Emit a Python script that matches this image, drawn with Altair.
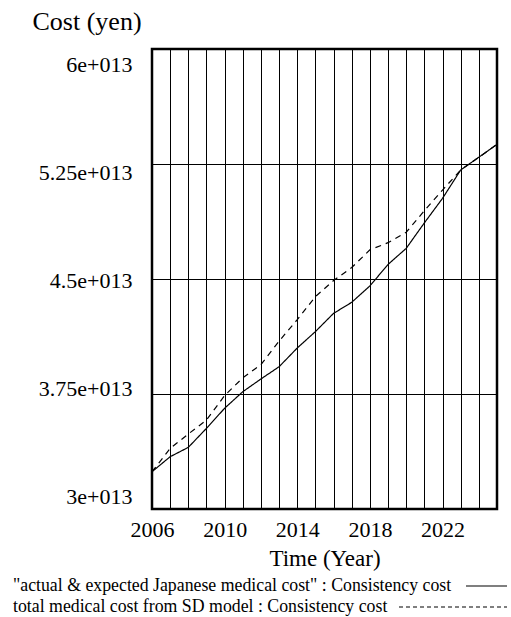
import altair as alt
import pandas as pd

# Annual medical cost (yen, in units of 1e13)
years = list(range(2006, 2026))
actual_cost = [3.243, 3.341, 3.402, 3.526, 3.657, 3.765, 3.848, 3.928, 4.050, 4.157,
               4.276, 4.348, 4.455, 4.595, 4.700, 4.866, 5.026, 5.211, 5.294, 5.378]
model_cost = [3.243, 3.395, 3.489, 3.580, 3.740, 3.855, 3.942, 4.095, 4.235, 4.385,
              4.490, 4.575, 4.690, 4.737, 4.805, 4.945, 5.080, 5.211, 5.294, 5.378]
series_names = ['"actual & expected Japanese medical cost" : Consistency cost',
                'total medical cost from SD model : Consistency cost']
series_dash = [[1, 0], [6, 5]]
y_ticks = [3.0e13, 3.75e13, 4.5e13, 5.25e13, 6.0e13]
x_label_years = [2006, 2010, 2014, 2018, 2022]

FONT = "Liberation Serif"

rows = []
for name, vals in zip(series_names, [actual_cost, model_cost]):
    for yr, v in zip(years, vals):
        rows.append({"year": yr, "cost": v * 1e13, "series": name})
df = pd.DataFrame(rows)

label_years = ",".join(str(y) for y in x_label_years)

lines = alt.Chart(df).mark_line(strokeWidth=1.2, color="black").encode(
    x=alt.X(
        "year:Q",
        scale=alt.Scale(domain=[years[0], years[-1]], nice=False, zero=False),
        axis=alt.Axis(
            values=years,
            format="d",
            labelExpr=f"indexof([{label_years}], datum.value) >= 0 ? datum.label : ''",
            labelFlush=False,
            title="Time (Year)",
            titleY=56,
            titleBaseline="alphabetic",
            titleFontSize=23,
            titleFontWeight="normal",
            labelFontSize=22,
            labelPadding=10,
        ),
    ),
    y=alt.Y(
        "cost:Q",
        scale=alt.Scale(domain=[y_ticks[0], y_ticks[-1]], nice=False, zero=False),
        axis=alt.Axis(
            values=y_ticks,
            labelExpr="replace(format(datum.value, '.3~e'), 'e+', 'e+0')",
            labelOffset={"expr": "1 + (datum.value - 4.5e13) / 0.75e13 * 7"},
            labelPadding=20,
            labelFontSize=22,
            labelBaseline="middle",
            title="Cost (yen)",
            titleAngle=0,
            titleAlign="left",
            titleBaseline="alphabetic",
            titleX=-120,
            titleY=-20,
            titleFontSize=26,
            titleFontWeight="normal",
        ),
    ),
    strokeDash=alt.StrokeDash(
        "series:N",
        scale=alt.Scale(domain=series_names, range=series_dash),
        legend=None,
    ),
    detail="series:N",
)

# Key below the plot: label followed by a line sample
legend_rows = [
    {"name": series_names[0], "y": 537, "x1": 314, "dash": series_dash[0]},
    {"name": series_names[1], "y": 558, "x1": 247, "dash": [4, 3]},
]
legend_layers = []
for row in legend_rows:
    src = pd.DataFrame({"name": [row["name"]]})
    legend_layers.append(
        alt.Chart(src).mark_text(
            align="left", baseline="middle", font=FONT, fontSize=17.8, color="black"
        ).encode(text="name:N", x=alt.value(-139), y=alt.value(row["y"]))
    )
    legend_layers.append(
        alt.Chart(src).mark_rule(
            color="black", strokeWidth=1.2, strokeDash=row["dash"]
        ).encode(x=alt.value(row["x1"]), x2=alt.value(355), y=alt.value(row["y"]))
    )

chart = alt.layer(lines, *legend_layers).properties(
    width=345,
    height=460,
    autosize=alt.AutoSizeParams(type="none"),
    padding={"left": 152, "top": 49, "right": 14, "bottom": 108},
    background="white",
).configure(
    font=FONT
).configure_text(
    font=FONT
).configure_view(
    stroke="black", strokeWidth=2.5
).configure_axis(
    domain=False,
    ticks=False,
    grid=True,
    gridColor="black",
    gridOpacity=1,
    gridWidth=1,
    labelFont=FONT,
    titleFont=FONT,
    labelColor="black",
    titleColor="black",
)

chart.save("out.html", embed_options={"renderer": "svg", "actions": False})
